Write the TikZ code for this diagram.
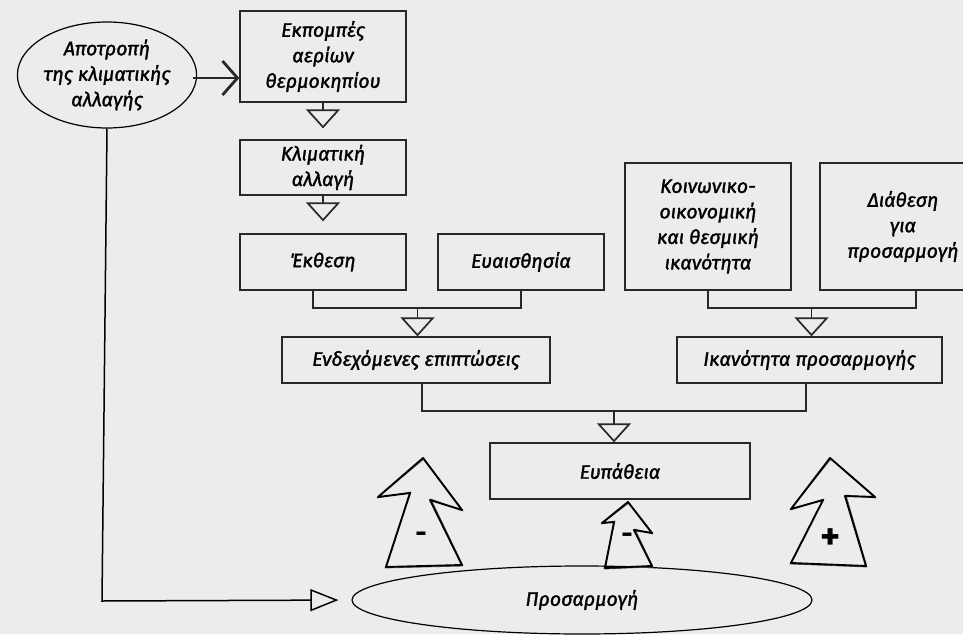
\documentclass[tikz,border=0pt]{standalone}
\usepackage{fontspec}
\setmainfont{Fira Sans}[ItalicFeatures={FakeBold=1.6}]
\usetikzlibrary{arrows.meta,shapes.geometric}
\definecolor{bg}{RGB}{235,236,236}
\definecolor{ink}{RGB}{40,40,40}
\begin{document}
\begin{tikzpicture}[x=1pt,y=-1pt,
  txt/.style={align=center, font=\itshape\fontsize{19.5}{25.5}\selectfont, text=black},
  box/.style={txt, draw=ink, line width=1.3pt, inner sep=0pt, minimum width=166pt},
  oval/.style={txt, draw=black, line width=1.2pt, ellipse, inner sep=0pt},
  conn/.style={draw=ink, line width=1.3pt},
  downtip/.style={-{Triangle[open,length=19pt,width=34pt,line width=1.7pt]}},
  sidetip/.style={-{Triangle[open,length=28pt,width=22pt,line width=1.5pt]}},
  barbtip/.style={-{Straight Barb[length=15pt,width=34pt,line width=2.8pt]}},
  bigarrow/.style={draw=black, line width=1.9pt, line join=round},
  sketch/.style={draw=black!60, line width=0.8pt, line join=round},
  sign/.style={font=\bfseries\fontsize{28}{28}\selectfont, text=black},
  plussign/.style={font=\bfseries\fontsize{38}{38}\selectfont, text=black}
]
\fill[bg] (0,0) rectangle (963,634);
\useasboundingbox (0,0) rectangle (963,634);
\clip (0,0) rectangle (963,634);

% nodes
\node[oval, minimum width=172pt, minimum height=106pt] (mit) at (107,75) {Αποτροπή\\της κλιματικής\\αλλαγής};
\node[box, minimum height=91pt] (emis) at (323,56.5) {Εκπομπές\\αερίων\\θερμοκηπίου};
\node[box, minimum height=55pt] (clim) at (323,167.5) {Κλιματική\\αλλαγή};
\node[box, minimum height=56pt] (exp) at (323,262) {Έκθεση};
\node[box, minimum height=56pt] (sens) at (521,262) {Ευαισθησία};
\node[box, minimum height=127pt] (soc) at (708,226.5) {Κοινωνικο-\\οικονομική\\και θεσμική\\ικανότητα};
\node[box, minimum height=127pt] (will) at (903,226.5) {Διάθεση\\για\\προσαρμογή};
\node[box, minimum width=268pt, minimum height=46pt] (imp) at (416,360) {Ενδεχόμενες επιπτώσεις};
\node[box, minimum width=265pt, minimum height=46pt] (cap) at (809.5,360) {Ικανότητα προσαρμογής};
\node[box, minimum width=260pt, minimum height=56pt] (vul) at (620,471) {Ευπάθεια};
\node[oval, minimum width=460pt, minimum height=68pt] (ada) at (582,600) {Προσαρμογή};

% junctions
\coordinate (j1) at (417.5,308);
\coordinate (j2) at (811.5,308);
\coordinate (j3) at (614,411);
\coordinate (c1) at (102,601);

% connectors
\draw[conn, line width=1.8pt, barbtip] (mit.east) ++(-4,3) coordinate (mitr) -- (mitr -| emis.west) ;
\draw[conn, downtip, shorten >=11pt] (emis.south) -- (clim.north);
\draw[conn, downtip, shorten >=12pt] (clim.south) -- (exp.north);
\draw[conn] ([xshift=-10pt]exp.south) |- (j1) -| (sens.south);
\draw[conn, downtip] (j1) -- (j1 |- imp.north);
\draw[conn] (soc.south) |- (j2) -| ([xshift=13pt]will.south);
\draw[conn, downtip] (j2) -- (j2 |- cap.north);
\draw[conn] ([xshift=6pt]imp.south) |- (j3) -| ([xshift=-3.5pt]cap.south);
\draw[conn, downtip] (j3) -- (j3 |- vul.north);
\draw[conn, draw=black, line width=1.5pt, sidetip, shorten >=13pt] (mit.south) -- (c1) -- (ada.west);

% big sketchy arrows
\draw[sketch] (424,459) -- (377,498) -- (411,492) -- (385,568) -- (463,566) -- (431,499) -- (463,511) -- cycle;
\draw[bigarrow] (423,458) -- (378,497) -- (410,493) -- (386,567) -- (462,565) -- (430,500) -- (462,510) -- cycle;
\draw[sketch] (629,503) -- (601,524) -- (615,521) -- (604,569) -- (653,567) -- (635,529) -- (653,534) -- cycle;
\draw[bigarrow] (628,502) -- (602,523) -- (614,522) -- (605,568) -- (652,566) -- (634,530) -- (652,533) -- cycle;
\draw[sketch] (831,459) -- (790,510) -- (824,499) -- (790,564) -- (867,567) -- (846,495) -- (876,498) -- cycle;
\draw[bigarrow] (830,458) -- (791,509) -- (823,500) -- (791,563) -- (866,566) -- (845,496) -- (875,497) -- cycle;
\node[sign] (s1) at (421,537) {-};
\node[sign] (s2) at (627,538) {-};
\node[plussign] (s3) at (831,539) {+};
\end{tikzpicture}
\end{document}
